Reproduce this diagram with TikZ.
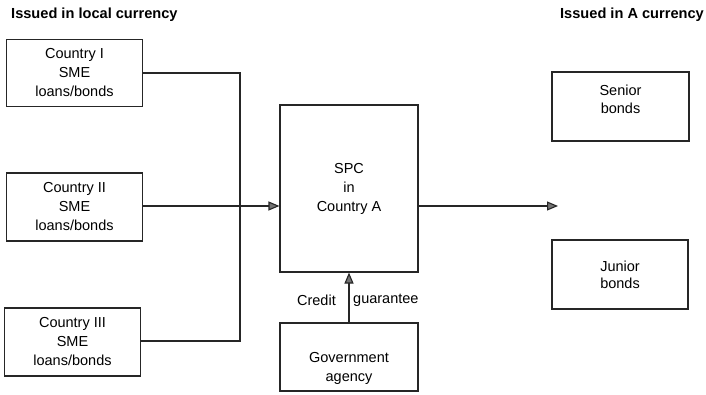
\documentclass[tikz,border=0pt]{standalone}
\usepackage{fontspec}
\setmainfont{Liberation Sans}
\usetikzlibrary{arrows.meta}
\begin{document}
\begin{tikzpicture}[x=1pt,y=-1pt,
  box/.style={draw=black!85, line width=1.1pt, minimum width=#1, align=center, inner sep=0pt, font=\fontsize{14.5}{19}\selectfont},
  box/.default=136pt,
  head/.style={font=\bfseries\fontsize{14.6}{16}\selectfont, inner sep=0pt},
  txt/.style={font=\fontsize{14.5}{19}\selectfont, inner sep=0pt, align=center},
  link/.style={draw=black!85, line width=1.1pt},
  arr/.style={link, -{Triangle[length=11pt,width=9pt,fill=black!55]}}]
\useasboundingbox (0,0) rectangle (706,395);

\node[head, anchor=west] (h1) at (11,15) {Issued in local currency};
\node[head, anchor=east] (h2) at (704,15) {Issued in A currency};

\node[box, minimum height=67pt] (c1) at (74.5,73) {Country I\\SME\\loans/bonds};
\node[box, minimum height=68pt] (c2) at (74.5,207) {Country II\\SME\\loans/bonds};
\node[box, minimum height=68pt] (c3) at (72.5,342) {Country III\\SME\\loans/bonds};

\node[box=138pt, minimum height=167pt] (spc) at (349,188.5) {SPC\\in\\Country A};
\node[box=138pt, minimum height=68pt] (gov) at (349,357) {};
\node[txt] (govt) at (349,368) {Government\\agency};

\node[box=137pt, minimum height=69pt] (sen) at (620.5,106.5) {};
\node[txt, font=\fontsize{14.5}{18}\selectfont] (sent) at (620.5,99) {Senior\\bonds};
\node[box=136pt, minimum height=69pt] (jun) at (620,274.5) {};
\node[txt, font=\fontsize{14.5}{16.5}\selectfont] (junt) at (620,275) {Junior\\bonds};

\coordinate (j1) at (240,73);
\coordinate (j3) at (240,341);
\coordinate (out) at (558,206);

\draw[link] (c1.east |- j1) -- (j1) -- (j3) -- (c3.east |- j3);
\draw[arr] (c2.east |- out) -- (spc.west |- out);
\draw[arr] (spc.east |- out) -- (out);
\draw[arr] (gov.north) -- (spc.south);

\node[txt, anchor=east] (cr) at (336,300) {Credit};
\node[txt, anchor=west] (gu) at (353,300) {guarantee};
\end{tikzpicture}
\end{document}
